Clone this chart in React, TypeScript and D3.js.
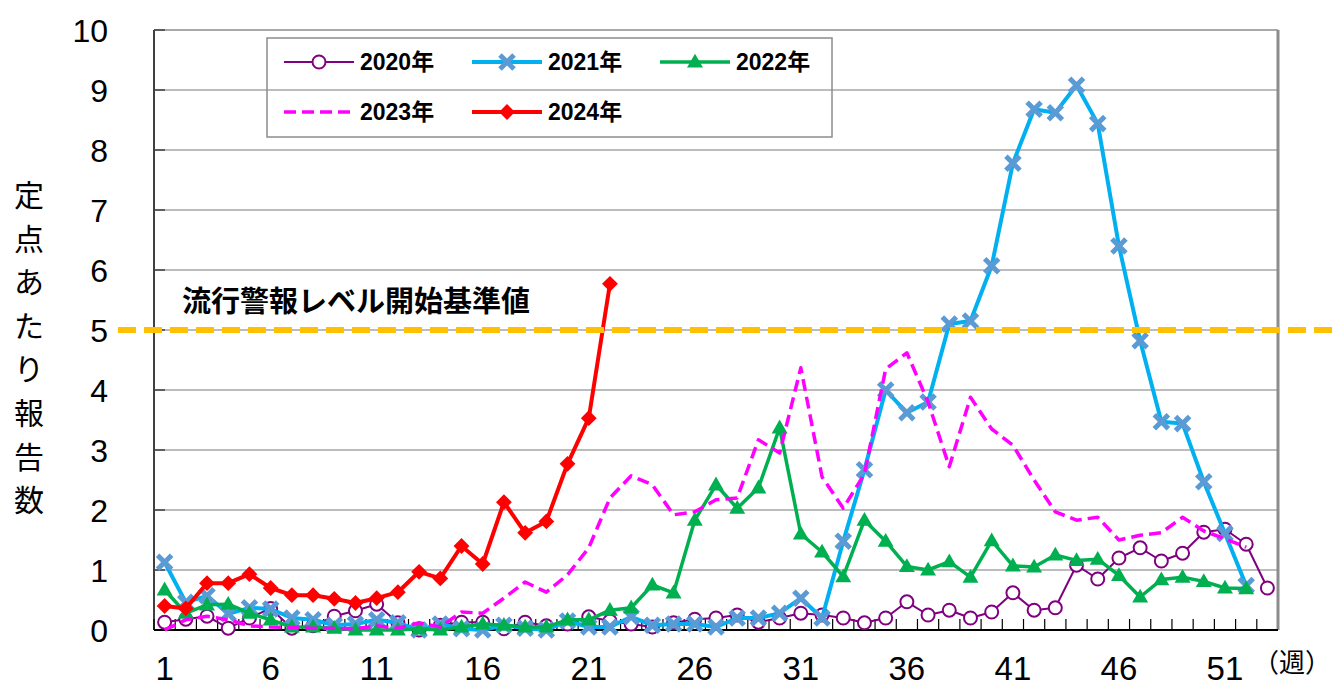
import * as d3 from "d3";
import { useEffect } from "react";

const W = 1332;
const H = 687;

const WEEKS = d3.range(1, 54);
const TICK_WEEKS = [1, 6, 11, 16, 21, 26, 31, 36, 41, 46, 51];
const Y_TICKS = [0, 1, 2, 3, 4, 5, 6, 7, 8, 9, 10];
const THRESHOLD = 5;

const Y2020 = [0.13, 0.18, 0.23, 0.03, 0.2, 0.36, 0.03, 0.07, 0.23, 0.32, 0.43, 0.12, 0.0, 0.08, 0.13, 0.13, 0.02, 0.13, 0.07, 0.1, 0.22, 0.15, 0.1, 0.05, 0.12, 0.18, 0.2, 0.25, 0.13, 0.2, 0.28, 0.25, 0.2, 0.12, 0.2, 0.47, 0.25, 0.33, 0.2, 0.3, 0.62, 0.33, 0.37, 1.08, 0.85, 1.2, 1.37, 1.15, 1.28, 1.63, 1.68, 1.43, 0.7];
const Y2021 = [1.13, 0.46, 0.57, 0.27, 0.37, 0.35, 0.2, 0.17, 0.08, 0.1, 0.17, 0.12, 0.0, 0.1, 0.02, 0.0, 0.08, 0.03, 0.0, 0.15, 0.05, 0.05, 0.22, 0.08, 0.1, 0.1, 0.05, 0.2, 0.2, 0.28, 0.53, 0.2, 1.48, 2.67, 4.0, 3.62, 3.8, 5.1, 5.15, 6.07, 7.78, 8.68, 8.62, 9.08, 8.44, 6.4, 4.82, 3.47, 3.44, 2.47, 1.61, 0.74];
const Y2022 = [0.67, 0.28, 0.42, 0.43, 0.28, 0.17, 0.05, 0.05, 0.03, 0.0, 0.0, 0.0, 0.02, 0.0, 0.05, 0.1, 0.08, 0.05, 0.05, 0.17, 0.17, 0.33, 0.37, 0.75, 0.62, 1.83, 2.42, 2.03, 2.37, 3.37, 1.6, 1.3, 0.89, 1.83, 1.48, 1.06, 1.0, 1.14, 0.88, 1.49, 1.07, 1.05, 1.25, 1.16, 1.18, 0.91, 0.55, 0.84, 0.88, 0.81, 0.7, 0.69];
const Y2023 = [0.0, 0.17, 0.23, 0.17, 0.07, 0.05, 0.04, 0.03, 0.03, 0.02, 0.07, 0.03, 0.12, 0.05, 0.3, 0.28, 0.53, 0.8, 0.63, 0.92, 1.37, 2.2, 2.57, 2.42, 1.92, 1.97, 2.17, 2.2, 3.17, 2.95, 4.37, 2.55, 2.03, 2.6, 4.35, 4.62, 3.8, 2.72, 3.88, 3.35, 3.08, 2.5, 1.97, 1.83, 1.88, 1.5, 1.58, 1.62, 1.88, 1.65, 1.52, 1.38];
const Y2024 = [0.4, 0.36, 0.78, 0.78, 0.93, 0.7, 0.58, 0.58, 0.52, 0.45, 0.53, 0.63, 0.97, 0.86, 1.4, 1.1, 2.13, 1.62, 1.81, 2.77, 3.53, 5.77];

type Series = {
  label: string;
  values: number[];
  color: string;
  width: number;
  dash?: string;
  marker: "circle" | "x" | "triangle" | "diamond" | "none";
  markerColor?: string;
};

const SERIES: Series[] = [
  { label: "2020年", values: Y2020, color: "#800080", width: 2, marker: "circle" },
  { label: "2021年", values: Y2021, color: "#00b0f0", width: 4, marker: "x", markerColor: "#5b9bd5" },
  { label: "2022年", values: Y2022, color: "#00b050", width: 3.5, marker: "triangle" },
  { label: "2023年", values: Y2023, color: "#ff00ff", width: 3.5, dash: "12 6", marker: "none" },
  { label: "2024年", values: Y2024, color: "#ff0000", width: 4, marker: "diamond" },
];

const NUM_FONT = "'Liberation Sans Narrow', 'Arial Narrow', 'Liberation Sans', Arial, sans-serif";
const JP_FONT = "'Noto Sans CJK JP', 'Noto Sans', sans-serif";

const symX = d3.symbol(d3.symbolX, 130)();
const symTri = d3.symbol(d3.symbolTriangle, 110)();
const symDia = d3.symbol(d3.symbolSquare, 125)();

function Marker({ s, x, y }: { s: Series; x: number; y: number }) {
  if (s.marker === "circle")
    return <circle cx={x} cy={y} r={6.5} fill="#fff" stroke={s.color} strokeWidth={2} />;
  if (s.marker === "x")
    return <path d={symX!} transform={`translate(${x},${y})`} fill="none" stroke={s.markerColor} strokeWidth={5} />;
  if (s.marker === "triangle")
    return <path d={symTri!} transform={`translate(${x},${y + 1})`} fill={s.color} />;
  if (s.marker === "diamond")
    return <path d={symDia!} transform={`translate(${x},${y}) rotate(45)`} fill={s.color} />;
  return null;
}

export default function App() {
  useEffect(() => {
    document.body.style.margin = "0";
  }, []);

  const x = d3.scaleBand<number>().domain(WEEKS).range([154, 1278]);
  const cx = (w: number) => (x(w) ?? 0) + x.bandwidth() / 2;
  const y = d3.scaleLinear().domain([0, 10]).range([630, 30]);

  const line = d3
    .line<number>()
    .x((_, i) => cx(WEEKS[i]))
    .y((v) => y(v));

  const legendPos = [
    { lx: 284, ty: 62 },
    { lx: 472, ty: 62 },
    { lx: 660, ty: 62 },
    { lx: 284, ty: 112 },
    { lx: 472, ty: 112 },
  ];

  return (
    <svg width={W} height={H} viewBox={`0 0 ${W} ${H}`} style={{ display: "block", background: "#fff" }}>
      {/* grid */}
      {Y_TICKS.filter((t) => t > 0 && t < 10).map((t) => (
        <line key={t} x1={154} x2={1278} y1={y(t)} y2={y(t)} stroke="#a6a6a6" strokeWidth={1.5} />
      ))}
      <line x1={154} x2={1278} y1={y(10)} y2={y(10)} stroke="#8c8c8c" strokeWidth={1.5} />
      <line x1={1278} x2={1278} y1={y(10)} y2={y(0)} stroke="#8c8c8c" strokeWidth={3} />

      {/* y axis */}
      <line x1={154} x2={154} y1={y(10)} y2={y(0)} stroke="#404040" strokeWidth={2} />
      {Y_TICKS.map((t) => (
        <g key={t}>
          <line x1={154} x2={165} y1={y(t)} y2={y(t)} stroke="#404040" strokeWidth={1.5} />
          <text
            x={108}
            y={y(t)}
            dy="0.36em"
            textAnchor="end"
            fontFamily="'Liberation Sans', Arial, sans-serif"
            fontSize={32}
            fill="#000"
          >
            {t}
          </text>
        </g>
      ))}

      {/* x axis */}
      {WEEKS.map((w) => (
        <line key={w} x1={x(w)!} x2={x(w)!} y1={630} y2={619} stroke="#000" strokeWidth={1.2} />
      ))}
      <line x1={154} x2={1278} y1={630} y2={630} stroke="#000" strokeWidth={2} />
      {TICK_WEEKS.map((w) => (
        <text key={w} x={cx(w)} y={680} textAnchor="middle" fontFamily={NUM_FONT} fontSize={33} fill="#000">
          {w}
        </text>
      ))}
      <text x={1331} y={672} textAnchor="end" fontFamily={JP_FONT} fontSize={26} fill="#000">
        （週）
      </text>

      {/* y title */}
      {Array.from("定点あたり報告数").map((ch, i) => (
        <text
          key={i}
          x={29}
          y={193 + i * 43.6}
          textAnchor="middle"
          dominantBaseline="central"
          fontFamily={JP_FONT}
          fontSize={30}
          fill="#000"
        >
          {ch}
        </text>
      ))}

      {/* series */}
      {SERIES.map((s) => (
        <g key={s.label}>
          <path
            d={line(s.values)!}
            fill="none"
            stroke={s.color}
            strokeWidth={s.width}
            strokeDasharray={s.dash}
            strokeLinejoin="round"
          />
          {s.values.map((v, i) => (
            <Marker key={i} s={s} x={cx(WEEKS[i])} y={y(v)} />
          ))}
        </g>
      ))}

      {/* threshold */}
      <line
        x1={118}
        x2={W}
        y1={y(THRESHOLD)}
        y2={y(THRESHOLD)}
        stroke="#ffc000"
        strokeWidth={6}
        strokeDasharray="18 8"
      />
      <text x={182} y={312} fontFamily={JP_FONT} fontWeight={700} fontSize={29} fill="#000">
        流行警報レベル開始基準値
      </text>

      {/* legend */}
      <rect x={267} y={38} width={565} height={99} fill="none" stroke="#8c8c8c" strokeWidth={1.5} />
      {SERIES.map((s, i) => {
        const p = legendPos[i];
        return (
          <g key={s.label}>
            <line
              x1={p.lx}
              x2={p.lx + 70}
              y1={p.ty}
              y2={p.ty}
              stroke={s.color}
              strokeWidth={s.width}
              strokeDasharray={s.dash}
            />
            <Marker s={s} x={p.lx + 35} y={p.ty} />
            <text
              x={p.lx + 76}
              y={p.ty}
              dy="0.36em"
              fontFamily={`'Liberation Sans', Arial, ${JP_FONT}`}
              fontWeight={700}
              fontSize={23}
              fill="#000"
            >
              {s.label}
            </text>
          </g>
        );
      })}
    </svg>
  );
}
